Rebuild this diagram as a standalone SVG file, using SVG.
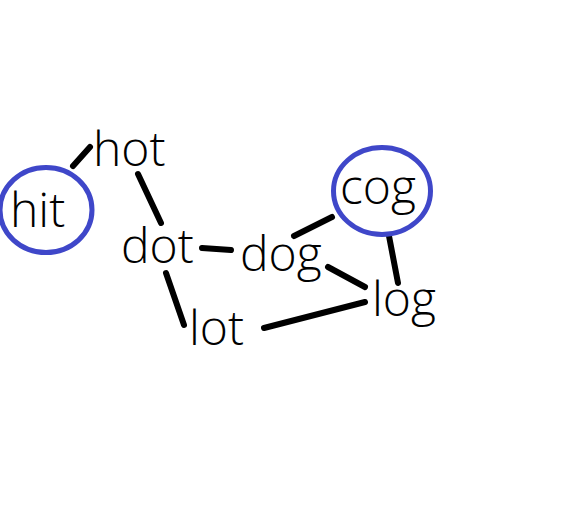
<svg xmlns="http://www.w3.org/2000/svg" width="564" height="516" viewBox="0 0 564 516">
<style>
.t{font-family:"Open Sans","Noto Sans",sans-serif;font-size:48px;font-weight:350;fill:#000}
.e{fill:none;stroke:#3f47c9;stroke-width:5}
.c line{stroke:#000;stroke-width:6;stroke-linecap:round}
</style>
<rect width="564" height="516" fill="#fff"/>
<g class="c" id="connectors">
<line x1="73" y1="166" x2="90" y2="147"/>
<line x1="138" y1="174" x2="161" y2="223"/>
<line x1="202" y1="248" x2="231" y2="250"/>
<line x1="166" y1="273" x2="184" y2="325"/>
<line x1="294" y1="236" x2="332" y2="217"/>
<line x1="328" y1="267" x2="365" y2="287"/>
<line x1="389" y1="236" x2="398" y2="283"/>
<line x1="264" y1="328" x2="365" y2="302"/>
</g>
<g id="hit"><ellipse class="e" cx="46" cy="210" rx="46" ry="42.5"/><text class="t" x="10" y="227">hit</text></g>
<g id="hot"><text class="t" x="93" y="166">hot</text></g>
<g id="dot"><text class="t" x="121" y="263">dot</text></g>
<g id="dog"><text class="t" x="240" y="271">dog</text></g>
<g id="cog"><ellipse class="e" cx="382" cy="191" rx="48.5" ry="43.5"/><text class="t" x="340" y="204">cog</text></g>
<g id="log"><text class="t" x="372" y="316">log</text></g>
<g id="lot"><text class="t" x="189" y="345">lot</text></g>
</svg>
